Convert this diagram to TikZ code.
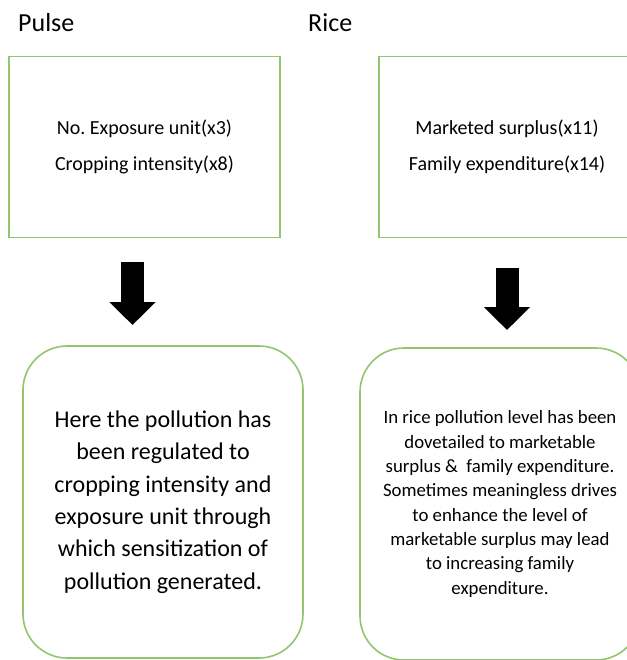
\documentclass[tikz,border=0pt]{standalone}
\usepackage{fontspec}
\setmainfont{Carlito}
\usetikzlibrary{arrows.meta}
\definecolor{boxgreen}{RGB}{146,198,110}
\frenchspacing

\begin{document}
\begin{tikzpicture}[x=1pt,y=-1pt,
  heading/.style={anchor=base west, inner sep=0pt, font=\fontsize{26}{30}\selectfont},
  factorbox/.style={draw=boxgreen, line width=1.6pt, minimum width=271pt,
    minimum height=181pt, align=center, font=\fontsize{20}{36}\selectfont},
  notebox/.style={draw=boxgreen, line width=1.6pt, rounded corners=44pt,
    minimum width=280pt, minimum height=312pt, align=center},
  blockarrow/.style={line width=23pt, -{Triangle[width=45pt,length=23pt]}}]
  \useasboundingbox (0,0) rectangle (626,660);
  % Headings.
  \node[heading] (pulse title) at (18,32) {Pulse};
  \node[heading] (rice title) at (308,32) {Rice};
  % Factor boxes.
  \node[factorbox] (pulse factors) at (144.5,147)
    {No. Exposure unit(x3)\\Cropping intensity(x8)};
  \node[factorbox, minimum width=256pt] (rice factors) at (507,147)
    {Marketed surplus(x11)\\Family expenditure(x14)};
  % Block arrows.
  \coordinate (pulse arrow top) at (132.5,262);
  \coordinate (pulse arrow tip) at (132.5,325);
  \coordinate (rice arrow top) at (507,268);
  \coordinate (rice arrow tip) at (507,330);
  \draw[blockarrow] (pulse arrow top) -- (pulse arrow tip);
  \draw[blockarrow] (rice arrow top) -- (rice arrow tip);
  % Notes.
  \node[notebox, font=\fontsize{24}{32.4}\selectfont] (pulse note) at (163,502)
    {Here the pollution has\\been regulated to\\cropping intensity and\\
     exposure unit through\\which sensitization of\\pollution generated.};
  \node[notebox, font=\fontsize{18.8}{24.3}\selectfont] (rice note) at (500,504)
    {In rice pollution level has been\\dovetailed to marketable\\
     surplus \&\ \ family expenditure.\\Sometimes meaningless drives\\
     to enhance the level of\\marketable surplus may lead\\
     to increasing family\\expenditure.};
\end{tikzpicture}
\end{document}
